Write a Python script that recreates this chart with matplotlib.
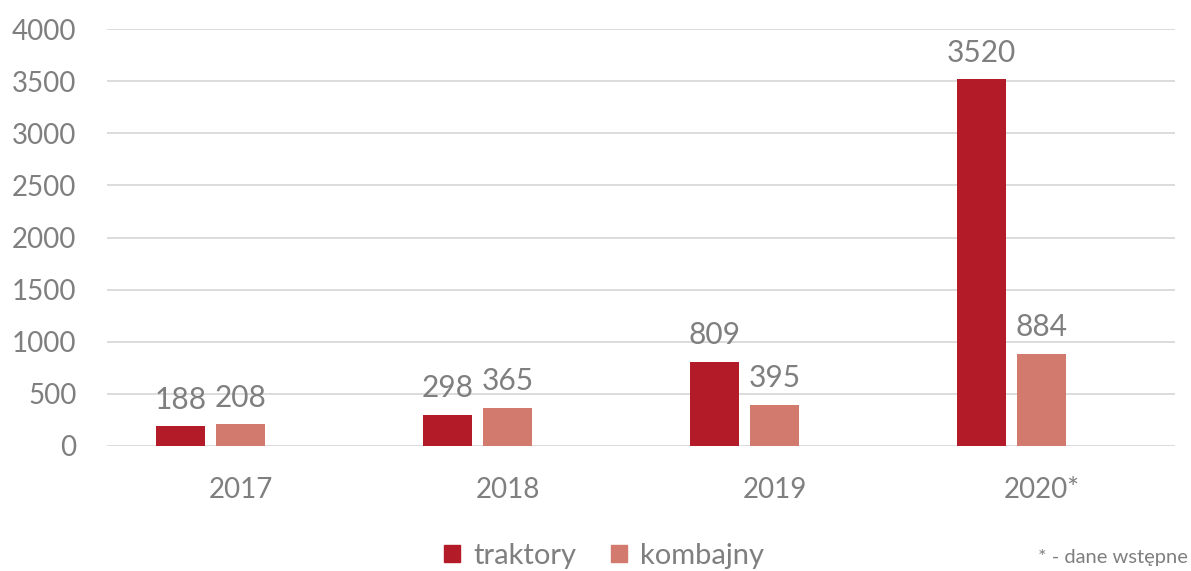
import matplotlib
matplotlib.use("Agg")
import matplotlib.pyplot as plt
from matplotlib.patches import Patch
import numpy as np

categories = ["2017", "2018", "2019", "2020*"]
traktory = [188, 298, 809, 3520]
kombajny = [208, 365, 395, 884]
series_names = ["traktory", "kombajny"]
yticks = [0, 500, 1000, 1500, 2000, 2500, 3000, 3500, 4000]
footnote = "* - dane wstępne"

c_trak = "#B31B28"
c_komb = "#D37A6E"
gray = "#7F7F7F"
plt.rcParams['font.family'] = ['Lato', 'DejaVu Sans']

fig = plt.figure(figsize=(11.91, 5.71), dpi=100)
ax = fig.add_axes([107/1191, 125/571, (1175-107)/1191, (446-29)/571])

x = np.arange(len(categories))
w = 0.18
step = 0.2247
b1 = ax.bar(x - step, traktory, w, color=c_trak, zorder=3)
b2 = ax.bar(x, kombajny, w, color=c_komb, zorder=3)

for bars, vals in ((b1, traktory), (b2, kombajny)):
    for r, v in zip(bars, vals):
        ax.annotate(str(v), (r.get_x() + r.get_width()/2, v), xytext=(0, 9),
                    textcoords="offset points", ha="center", va="bottom",
                    fontsize=21.5, color=gray)

ax.set_xlim(-0.5, len(categories) - 0.5)
ax.set_ylim(0, 4000)
ax.set_yticks(yticks)
ax.set_yticklabels([str(t) for t in yticks])
ax.set_xticks(x)
ax.set_xticklabels(categories)
ax.tick_params(axis="both", length=0, labelsize=20, labelcolor=gray)
ax.tick_params(axis="y", pad=22)
ax.tick_params(axis="x", pad=22)
ax.grid(axis="y", color="#D9D9D9", linewidth=1.3, zorder=0)
for s in ax.spines.values():
    s.set_visible(False)

handles = [Patch(color=c_trak), Patch(color=c_komb)]
leg = fig.legend(handles, series_names, loc="center", bbox_to_anchor=(604/1191, 1 - 556/571),
                 ncol=2, frameon=False, fontsize=21, handlelength=0.55, handleheight=0.55,
                 handletextpad=0.45, columnspacing=1.2, labelcolor=gray)
fig.text(1188/1191, 1 - 557/571, footnote, ha="right", va="center", fontsize=14.5, color=gray)

fig.savefig("out.png", dpi=100)
